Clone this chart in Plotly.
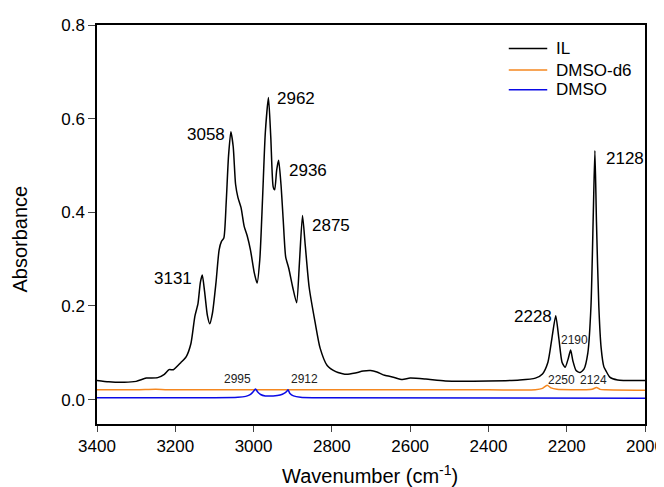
import plotly.graph_objects as go

# IL spectrum (wavenumber cm-1, absorbance)
il_wn = [3400, 3370, 3330, 3300, 3274, 3245, 3228, 3216, 3205, 3186, 3172, 3160, 3150,
         3142, 3136, 3131, 3125, 3118, 3112, 3105, 3096, 3088, 3082, 3076, 3070, 3064,
         3058, 3052, 3046, 3040, 3032, 3024, 3016, 3008, 2998, 2991, 2984, 2977, 2970,
         2962, 2956, 2950, 2946, 2941, 2936, 2930, 2924, 2918, 2910, 2900, 2890, 2883,
         2875, 2868, 2858, 2843, 2830, 2812, 2790, 2775, 2762, 2740, 2720, 2701, 2685,
         2665, 2643, 2620, 2600, 2560, 2510, 2400, 2320, 2280, 2262, 2248, 2238, 2228,
         2220, 2212, 2204, 2196, 2190, 2184, 2176, 2166, 2156, 2146, 2138, 2132, 2128,
         2124, 2118, 2112, 2105, 2100, 2090, 2070, 2000]
il_abs = [0.041, 0.038, 0.037, 0.039, 0.046, 0.047, 0.054, 0.064, 0.064, 0.079, 0.092, 0.120, 0.178,
          0.205, 0.250, 0.266, 0.230, 0.180, 0.162, 0.185, 0.250, 0.320, 0.338, 0.345, 0.420, 0.520,
          0.572, 0.540, 0.460, 0.432, 0.410, 0.370, 0.349, 0.320, 0.270, 0.249, 0.300, 0.430, 0.570,
          0.645, 0.560, 0.455, 0.448, 0.490, 0.511, 0.460, 0.380, 0.305, 0.280, 0.240, 0.207, 0.290,
          0.393, 0.330, 0.240, 0.166, 0.110, 0.073, 0.060, 0.056, 0.054, 0.057, 0.061, 0.062, 0.059,
          0.052, 0.048, 0.043, 0.046, 0.044, 0.040, 0.040, 0.042, 0.046, 0.055, 0.080, 0.130, 0.179,
          0.130, 0.080, 0.069, 0.088, 0.106, 0.082, 0.062, 0.058, 0.065, 0.100, 0.200, 0.400, 0.532,
          0.380, 0.200, 0.110, 0.070, 0.062, 0.048, 0.042, 0.041]

# DMSO-d6 spectrum
d6_wn = [3400, 3300, 3250, 3220, 3000, 2800, 2400, 2280, 2262, 2250, 2240, 2225, 2150,
         2135, 2124, 2115, 2100, 2000]
d6_abs = [0.021, 0.021, 0.022, 0.021, 0.021, 0.021, 0.021, 0.021, 0.024, 0.031, 0.025, 0.022, 0.021,
          0.022, 0.026, 0.022, 0.021, 0.020]

# DMSO spectrum
dmso_wn = [3400, 3100, 3040, 3020, 3010, 3003, 2998, 2995, 2990, 2982, 2970, 2950, 2932,
           2921, 2915, 2912, 2907, 2898, 2880, 2850, 2000]
dmso_abs = [0.004, 0.004, 0.005, 0.007, 0.010, 0.015, 0.020, 0.023, 0.017, 0.011, 0.008, 0.008, 0.010,
            0.014, 0.018, 0.021, 0.013, 0.008, 0.005, 0.004, 0.003]

series_names = ['IL', 'DMSO-d6', 'DMSO']

# peak labels: big ones on IL, small ones on solvents
big_peaks = [3131, 3058, 2962, 2936, 2875, 2228, 2128]
big_heights = [0.266, 0.572, 0.645, 0.511, 0.393, 0.179, 0.532]
small_peaks = [2190, 2250, 2124, 2995, 2912]
small_heights = [0.106, 0.031, 0.026, 0.023, 0.021]

y_ticks = [0.0, 0.2, 0.4, 0.6, 0.8]
x_ticks = [3400, 3200, 3000, 2800, 2600, 2400, 2200, 2000]

FONT = 'Arial, Liberation Sans, sans-serif'
colors = ['#000000', '#F5871F', '#0A0AE6']

fig = go.Figure()
for wn, ab, name, c in zip([il_wn, d6_wn, dmso_wn], [il_abs, d6_abs, dmso_abs], series_names, colors):
    fig.add_trace(go.Scatter(x=wn, y=ab, mode='lines', name=name,
                             line=dict(color=c, width=1.5, shape='spline', smoothing=0.6),
                             showlegend=False))

# label offsets (px): (xanchor, xshift, yshift)
big_off = [('right', -8, -3), ('right', -4, -3), ('left', 7, -1), ('left', 8, -10),
           ('left', 7, -10), ('right', -2, -1), ('left', 9, -8)]
for p, h, (xa, dx, dy) in zip(big_peaks, big_heights, big_off):
    fig.add_annotation(x=p, y=h, text=str(p), showarrow=False, xanchor=xa, yanchor='middle',
                       xshift=dx, yshift=dy, font=dict(family=FONT, size=17, color='black'))

small_off = [(4, 10), (14, 5), (-3, 7), (-18, 10), (16, 11)]
for p, h, (dx, dy) in zip(small_peaks, small_heights, small_off):
    fig.add_annotation(x=p, y=h, text=str(p), showarrow=False, xanchor='center', yanchor='middle',
                       xshift=dx, yshift=dy, font=dict(family=FONT, size=12, color='#222222'))

# legend drawn by hand, placed like the original
leg_y = [0.941, 0.887, 0.838]
for name, c, ly in zip(series_names, colors, leg_y):
    fig.add_shape(type='line', xref='paper', yref='paper', x0=0.7514, x1=0.8216, y0=ly, y1=ly,
                  line=dict(color=c, width=1.5))
    fig.add_annotation(xref='paper', yref='paper', x=0.834, y=ly, text=name, showarrow=False,
                       xanchor='left', yanchor='middle', font=dict(family=FONT, size=17, color='black'))

# axis titles
fig.add_annotation(xref='paper', yref='paper', x=0.499, y=-0.1275, text='Wavenumber (cm<sup>-1</sup>)',
                   showarrow=False, xanchor='center', yanchor='middle',
                   font=dict(family=FONT, size=20, color='black'))
fig.add_annotation(xref='paper', yref='paper', x=-0.14, y=0.463, text='Absorbance', textangle=-90,
                   showarrow=False, xanchor='center', yanchor='middle',
                   font=dict(family=FONT, size=20, color='black'))

fig.update_xaxes(range=[3400, 2000], tickvals=x_ticks, ticks='outside', ticklen=6, tickwidth=1.2,
                 showline=True, linecolor='black', linewidth=1.5, mirror=True, showgrid=False,
                 zeroline=False, tickfont=dict(family=FONT, size=17, color='black'))
fig.update_yaxes(range=[-0.052, 0.8], tickvals=y_ticks, tickformat='.1f', ticks='outside', ticklen=7,
                 tickwidth=1.2, showline=True, linecolor='black', linewidth=1.5, mirror=True,
                 showgrid=False, zeroline=False, tickfont=dict(family=FONT, size=17, color='black'))

fig.update_layout(width=664, height=487, margin=dict(l=89, r=20, t=8, b=71),
                  plot_bgcolor='white', paper_bgcolor='white', showlegend=False)

fig.write_html('out.html')
